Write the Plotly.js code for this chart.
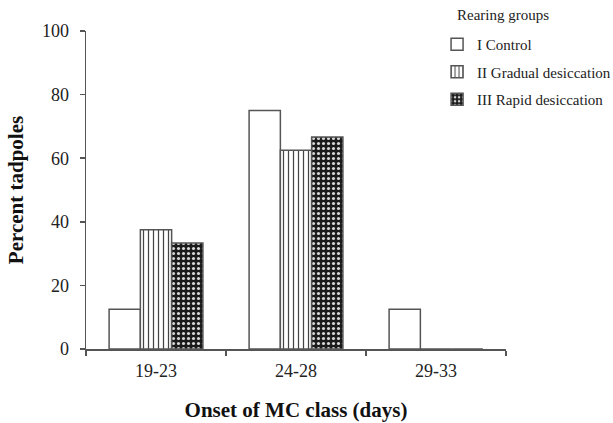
<!DOCTYPE html>
<html>
<head>
<meta charset="utf-8">
<script src="https://cdn.plot.ly/plotly-3.0.1.min.js"></script>
<style>html,body{margin:0;padding:0;background:#fff;}#chart{width:613px;height:423px;}</style>
</head>
<body>
<div id="chart"></div>
<script>
var categories = ["19-23", "24-28", "29-33"];
var seriesNames = ["I Control", "II Gradual desiccation", "III Rapid desiccation"];
var controlValues = [12.5, 75, 12.5];
var gradualValues = [37.5, 62.5, 0];
var rapidValues = [33.3, 66.7, 0];
var yTicks = [0, 20, 40, 60, 80, 100];
var legendTitle = "Rearing groups";

var lineCol = "#555";
var serif = "Liberation Serif, Times New Roman, serif";

var traces = [
  {type: "bar", name: seriesNames[0], legendgroup: "a", x: categories, y: controlValues,
   marker: {color: "#ffffff", line: {color: lineCol, width: 1.5}}},
  {type: "bar", name: seriesNames[1], legendgroup: "b", x: categories, y: gradualValues,
   marker: {color: "#ffffff", line: {color: lineCol, width: 1.5},
     pattern: {shape: "|", fgcolor: "#444", bgcolor: "#ffffff", size: 5, solidity: 0.25}}},
  {type: "bar", name: seriesNames[2], legendgroup: "c", x: categories, y: rapidValues,
   marker: {color: "#222", line: {color: lineCol, width: 1.5},
     pattern: {shape: ".", fgcolor: "#d8d8d8", bgcolor: "#1a1a1a", size: 5, solidity: 0.3, fillmode: "replace"}}}
];

var layout = {
  width: 613, height: 423,
  margin: {l: 86, r: 107, t: 31, b: 74, autoexpand: false},
  paper_bgcolor: "#fff", plot_bgcolor: "#fff",
  barmode: "group", bargap: 0.33, bargroupgap: 0,
  font: {family: serif, color: "#222", size: 15},
  showlegend: true,
  legend: {xref: "container", yref: "container", x: 0.713, y: 1 - 28 / 423, xanchor: "left", yanchor: "top",
    font: {family: serif, size: 15, color: "#222"}, traceorder: "grouped",
    itemwidth: 30, tracegroupgap: 5, bgcolor: "rgba(0,0,0,0)"},
  annotations: [{text: legendTitle, xref: "paper", yref: "paper", x: (455 - 86) / 420, y: 1 + 16 / 318,
    xanchor: "left", yanchor: "middle", showarrow: false,
    font: {family: serif, size: 15, color: "#222"}}],
  xaxis: {type: "category", range: [-0.5, 2.5], tickson: "boundaries",
    showline: true, linecolor: lineCol, linewidth: 1.5,
    ticks: "outside", ticklen: 5, tickcolor: lineCol, tickwidth: 1.5,
    ticklabelstandoff: 5,
    showgrid: false, zeroline: false,
    tickfont: {family: serif, size: 18, color: "#222"},
    title: {text: "<b>Onset of MC class (days)</b>", font: {family: serif, size: 21, color: "#111"}, standoff: 22}},
  yaxis: {range: [0, 100], tickvals: yTicks, ticktext: yTicks.map(String),
    showline: true, linecolor: lineCol, linewidth: 1.5,
    ticks: "outside", ticklen: 5, tickcolor: lineCol, tickwidth: 1.5,
    ticklabelstandoff: 7,
    showgrid: false, zeroline: false,
    tickfont: {family: serif, size: 18, color: "#222"},
    title: {text: "<b>Percent tadpoles</b>", font: {family: serif, size: 21, color: "#111"}, standoff: 12}}
};

Plotly.newPlot("chart", traces, layout, {displayModeBar: false, staticPlot: true});
</script>
</body>
</html>
